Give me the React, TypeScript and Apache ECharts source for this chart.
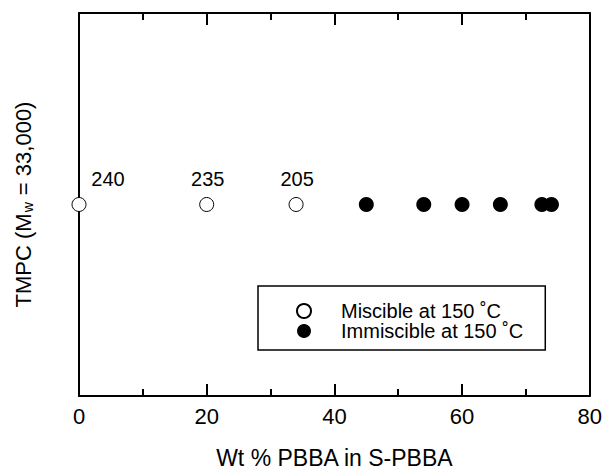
import React, { useEffect, useRef } from "react";
import * as echarts from "echarts";

const miscibleX = [0, 20, 34];
const miscibleLabels = ["240", "235", "205"];
const immiscibleX = [45, 54, 60, 66, 72.5, 74];
const rowY = 0.5;
const xTicks = [0, 20, 40, 60, 80];

export default function App() {
  const ref = useRef<HTMLDivElement>(null);
  useEffect(() => {
    document.body.style.margin = "0";
    const chart = echarts.init(ref.current!, null, { renderer: "svg" });
    const font = "'Liberation Sans', Arial, sans-serif";
    const axisLine = { show: true, onZero: false, lineStyle: { color: "#000", width: 2 } };
    const tick = { show: true, inside: true, length: 12, lineStyle: { color: "#000", width: 2 } };
    const minor = { show: true, splitNumber: 2, length: 7, lineStyle: { color: "#000", width: 2 } };
    chart.setOption({
      animation: false,
      backgroundColor: "#fff",
      textStyle: { fontFamily: font, color: "#000" },
      grid: { left: 79, right: 15, top: 13, bottom: 74 },
      xAxis: [
        {
          type: "value",
          min: xTicks[0],
          max: xTicks[xTicks.length - 1],
          interval: 20,
          position: "bottom",
          axisLine,
          axisTick: tick,
          minorTick: minor,
          splitLine: { show: false },
          minorSplitLine: { show: false },
          axisLabel: { fontSize: 22, color: "#000", margin: 9, fontFamily: font },
          name: "Wt % PBBA in S-PBBA",
          nameLocation: "middle",
          nameGap: 50,
          nameTextStyle: { fontSize: 23, color: "#000", fontFamily: font },
        },
        {
          type: "value",
          min: xTicks[0],
          max: xTicks[xTicks.length - 1],
          interval: 20,
          position: "top",
          axisLine,
          axisTick: tick,
          minorTick: minor,
          splitLine: { show: false },
          minorSplitLine: { show: false },
          axisLabel: { show: false },
        },
      ],
      yAxis: [
        {
          type: "value",
          min: 0,
          max: 1,
          position: "left",
          axisLine,
          axisTick: { show: false },
          splitLine: { show: false },
          axisLabel: { show: false },
          name: "{a|TMPC (M}{s|w}{a| = 33,000)}",
          nameLocation: "middle",
          nameGap: 44,
          nameTextStyle: {
            fontFamily: font,
            rich: {
              a: { fontSize: 22, color: "#000", fontFamily: font },
              s: { fontSize: 14, color: "#000", fontFamily: font, verticalAlign: "bottom", padding: [10, 1, 0, 1] },
            },
          },
        },
        {
          type: "value",
          min: 0,
          max: 1,
          position: "right",
          axisLine,
          axisTick: { show: false },
          splitLine: { show: false },
          axisLabel: { show: false },
        },
      ],
      legend: {
        orient: "vertical",
        left: 258,
        top: 286,
        data: ["Miscible at 150 ˚C", "Immiscible at 150 ˚C"],
        itemWidth: 14,
        itemHeight: 14,
        itemGap: 0,
        padding: [15, 22, 9, 38],
        borderColor: "#000",
        borderWidth: 1.5,
        borderRadius: 0,
        backgroundColor: "#fff",
        textStyle: { fontSize: 20, color: "#000", fontFamily: font, padding: [0, 0, 0, 25], lineHeight: 20 },
      },
      series: [
        {
          name: "Miscible at 150 ˚C",
          type: "scatter",
          symbol: "circle",
          symbolSize: 14,
          itemStyle: { color: "#fff", borderColor: "#000", borderWidth: 1, opacity: 1 },
          data: miscibleX.map((x, i) => ({
            value: [x, rowY],
            label: {
              show: true,
              formatter: miscibleLabels[i],
              position: "top",
              distance: 8,
              offset: i === 0 ? [29, 0] : [1, 0],
              fontSize: 20,
              color: "#000",
              fontFamily: font,
            },
          })),
          z: 5,
        },
        {
          name: "Immiscible at 150 ˚C",
          type: "scatter",
          symbol: "circle",
          symbolSize: 15,
          itemStyle: { color: "#000", borderColor: "#000", borderWidth: 0, opacity: 1 },
          data: immiscibleX.map((x) => [x, rowY]),
          z: 5,
        },
      ],
    });
    return () => chart.dispose();
  }, []);
  return <div ref={ref} style={{ width: 605, height: 474 }} />;
}
